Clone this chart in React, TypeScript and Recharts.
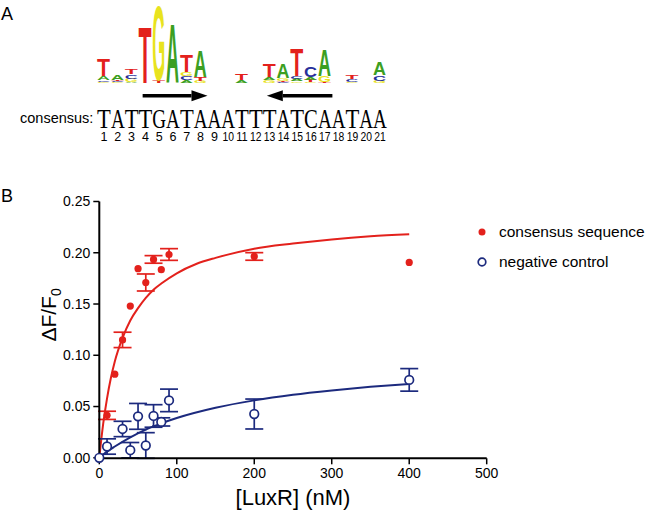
import React from "react";
import {
  BarChart,
  Bar,
  XAxis,
  YAxis,
  ReferenceLine,
  ComposedChart,
  Line,
  Scatter,
  ErrorBar,
  Legend,
} from "recharts";

// ---- panel A: sequence logo ----
const CONSENSUS = "TATTGATAAATTTATCAATAA".split("");
const POSITIONS = CONSENSUS.map((_, i) => i + 1);

// letters per position, stacked bottom -> top
const LOGO_LETTERS: string[][] = [
  ["G", "C", "A", "T"],
  ["G", "C", "T", "A"],
  ["A", "G", "C", "T"],
  ["T"],
  ["T", "G"],
  ["A"],
  ["A", "C", "G", "T"],
  ["G", "T", "A"],
  [],
  [],
  ["A", "T"],
  [],
  ["G", "A", "T"],
  ["C", "T", "G", "A"],
  ["G", "A", "C", "T"],
  ["G", "T", "A", "C"],
  ["T", "G", "A"],
  [],
  ["G", "C", "T"],
  [],
  ["G", "C", "A"],
];
// information content (bits), same order
const LOGO_BITS: number[][] = [
  [0.03, 0.04, 0.1, 0.44],
  [0.02, 0.03, 0.03, 0.14],
  [0.03, 0.08, 0.11, 0.12],
  [1.43],
  [0.07, 1.9],
  [1.5],
  [0.07, 0.1, 0.1, 0.42],
  [0.05, 0.1, 0.65],
  [],
  [],
  [0.07, 0.17],
  [],
  [0.07, 0.07, 0.33],
  [0.03, 0.03, 0.07, 0.37],
  [0.04, 0.07, 0.07, 0.7],
  [0.03, 0.05, 0.07, 0.25],
  [0.03, 0.15, 0.65],
  [],
  [0.03, 0.06, 0.1],
  [],
  [0.06, 0.13, 0.33],
];
const FWD_ARROW = [3.8, 8.5];
const REV_ARROW = [17.55, 12.8];

// ---- panel B: binding data ----
const RED_X = [0, 10, 20, 30, 40, 50, 60, 70, 80, 90, 200, 400];
const RED_Y = [0, 0.0414, 0.0816, 0.115, 0.148, 0.1845, 0.171, 0.1935, 0.1835, 0.1983, 0.1964, 0.1906];
const RED_ERR = [0, 0.004, 0, 0.0075, 0, 0, 0.0083, 0.0037, 0, 0.0057, 0.0037, 0];

const BLUE_X = [0, 10, 30, 40, 50, 60, 70, 80, 90, 200, 400];
const BLUE_Y = [0, 0.011, 0.0281, 0.0074, 0.0404, 0.012, 0.0408, 0.035, 0.056, 0.0427, 0.076];
const BLUE_ERR = [0, 0.0075, 0.0075, 0.0075, 0.0126, 0.0125, 0.011, 0.004, 0.011, 0.0146, 0.011];

const RED_FIT_X = [0, 5, 10, 15, 20, 30, 40, 50, 60, 70, 80, 100, 125, 150, 200, 250, 300, 350, 400];
const RED_FIT_Y = [0, 0.033, 0.058, 0.078, 0.094, 0.117, 0.134, 0.146, 0.156, 0.164, 0.17, 0.18, 0.189, 0.195, 0.204, 0.209, 0.213, 0.216, 0.218];
const BLUE_FIT_X = [0, 10, 20, 40, 60, 80, 100, 150, 200, 250, 300, 350, 400];
const BLUE_FIT_Y = [0, 0.006, 0.011, 0.02, 0.0275, 0.0336, 0.0388, 0.0488, 0.056, 0.0615, 0.0657, 0.0692, 0.072];

const X_TICKS = [0, 100, 200, 300, 400, 500];
const Y_TICKS = [0, 0.05, 0.1, 0.15, 0.2, 0.25];

const RED = "#e3211c";
const BLUE = "#1c2a7e";
const LETTER_COLORS: Record<string, string> = {
  A: "#3c9f22",
  C: "#27309b",
  G: "#e8e31e",
  T: "#e3211c",
};
const SANS = "'Liberation Sans', Arial, Helvetica, sans-serif";

const logoRows = POSITIONS.map((pos, i) => {
  const row: Record<string, any> = { pos };
  for (let k = 0; k < 4; k++) {
    row[`h${k}`] = LOGO_BITS[i][k] ?? 0;
    row[`l${k}`] = LOGO_LETTERS[i][k] ?? "";
  }
  return row;
});

const zip = (xs: number[], ys: number[], es?: number[]) =>
  xs.map((x, i) => ({ x, y: ys[i], err: es ? es[i] : 0 }));

const redPoints = zip(RED_X, RED_Y, RED_ERR);
const bluePoints = zip(BLUE_X, BLUE_Y, BLUE_ERR);
const redFit = zip(RED_FIT_X, RED_FIT_Y);
const blueFit = zip(BLUE_FIT_X, BLUE_FIT_Y);

function renderLetter(props: any, k: number) {
  const { x, y, width, height, payload } = props;
  const letter = payload?.[`l${k}`];
  if (!letter || !(height > 0.3)) return <g />;
  return (
    <text
      x={0}
      y={0}
      fontSize={100}
      fontWeight={700}
      fontFamily={SANS}
      fill={LETTER_COLORS[letter]}
      textLength={70}
      lengthAdjust="spacingAndGlyphs"
      transform={`translate(${x},${y + height}) scale(${width / 70},${height / 72})`}
    >
      {letter}
    </text>
  );
}

function Arrow(props: any) {
  const { x1, y1, x2, y2 } = props;
  const dir = x2 > x1 ? 1 : -1;
  const bx = x2 - dir * 16;
  return (
    <g>
      <line x1={x1} y1={y1} x2={bx} y2={y2} stroke="#000" strokeWidth={3.5} />
      <polygon points={`${x2},${y2} ${bx},${y2 - 5.5} ${bx},${y2 + 5.5}`} fill="#000" />
    </g>
  );
}

function ConsensusTick(props: any) {
  const { x, y, payload } = props;
  const idx = payload.value - 1;
  const num = String(payload.value);
  return (
    <g>
      <text
        x={x - 6.9}
        y={y + 44.5}
        fontFamily="'Liberation Serif', 'Times New Roman', serif"
        fontSize={27}
        fill="#000"
        textLength={13.8}
        lengthAdjust="spacingAndGlyphs"
      >
        {CONSENSUS[idx]}
      </text>
      <text
        x={x}
        y={y + 58}
        textAnchor="middle"
        fontFamily="'Liberation Sans Narrow', 'Arial Narrow', sans-serif"
        fontSize={12.5}
        fill="#000"
        textLength={num.length > 1 ? 11.5 : undefined}
        lengthAdjust="spacingAndGlyphs"
      >
        {num}
      </text>
    </g>
  );
}

function XTitle(props: any) {
  const { viewBox } = props;
  return (
    <text x={viewBox.x + viewBox.width / 2} y={viewBox.y + 46.7} textAnchor="middle" fontSize={22} fill="#000" fontFamily={SANS}>
      [LuxR] (nM)
    </text>
  );
}

function YTitle(props: any) {
  const { viewBox } = props;
  const x = viewBox.x + 17;
  const y = viewBox.y + viewBox.height / 2 - 15;
  return (
    <text x={x} y={y} transform={`rotate(-90 ${x} ${y})`} textAnchor="middle" fontSize={21} fill="#000" fontFamily={SANS}>
      ΔF/F
      <tspan fontSize={14} dy={5}>0</tspan>
    </text>
  );
}

function LegendBox() {
  const items = [
    { label: "consensus sequence", open: false },
    { label: "negative control", open: true },
  ];
  return (
    <div style={{ fontFamily: SANS, fontSize: 15.5, color: "#000" }}>
      {items.map((it) => (
        <div key={it.label} style={{ display: "flex", alignItems: "center", height: 30 }}>
          <svg width={16} height={12} style={{ marginRight: 8 }}>
            {it.open ? (
              <circle cx={7} cy={6} r={3.8} fill="#fff" stroke={BLUE} strokeWidth={1.7} />
            ) : (
              <circle cx={7} cy={6} r={3.5} fill={RED} />
            )}
          </svg>
          <span>{it.label}</span>
        </div>
      ))}
    </div>
  );
}

export default function App() {
  return (
    <div style={{ position: "absolute", left: 0, top: 0, width: 650, height: 515, background: "#fff", fontFamily: SANS }}>
      <div style={{ position: "absolute", left: 0, top: 0 }}>
        <BarChart
          width={650}
          height={160}
          data={logoRows}
          barSize={13}
          margin={{ top: 3, right: 263.1, bottom: 7, left: 97.1 }}
        >
          <XAxis
            type="number"
            dataKey="pos"
            domain={[0.5, 21.5]}
            ticks={POSITIONS}
            interval={0}
            axisLine={false}
            tickLine={false}
            tickSize={0}
            tickMargin={0}
            height={70}
            tick={<ConsensusTick />}
          />
          <YAxis hide domain={[0, 2]} />
          {[0, 1, 2, 3].map((k) => (
            <Bar
              key={k}
              dataKey={`h${k}`}
              stackId="logo"
              isAnimationActive={false}
              shape={(p: any) => renderLetter(p, k)}
            />
          ))}
          <ReferenceLine
            segment={[{ x: FWD_ARROW[0], y: -0.32 }, { x: FWD_ARROW[1], y: -0.32 }]}
            ifOverflow="visible"
            shape={Arrow}
          />
          <ReferenceLine
            segment={[{ x: REV_ARROW[0], y: -0.32 }, { x: REV_ARROW[1], y: -0.32 }]}
            ifOverflow="visible"
            shape={Arrow}
          />
        </BarChart>
      </div>

      <div style={{ position: "absolute", left: 0, top: 0 }}>
        <ComposedChart width={650} height={515} margin={{ top: 201.5, right: 163.3, bottom: 26.7, left: 39.3 }}>
          <XAxis
            type="number"
            dataKey="x"
            domain={[0, 500]}
            ticks={X_TICKS}
            height={30}
            axisLine={{ stroke: "#000", strokeWidth: 2 }}
            tickLine={{ stroke: "#000", strokeWidth: 1.5 }}
            tickSize={6}
            tickMargin={4}
            tick={{ fill: "#000", fontSize: 14 }}
            label={<XTitle />}
          />
          <YAxis
            type="number"
            domain={[0, 0.25]}
            ticks={Y_TICKS}
            width={60}
            tickFormatter={(v: number) => v.toFixed(2)}
            axisLine={{ stroke: "#000", strokeWidth: 2 }}
            tickLine={{ stroke: "#000", strokeWidth: 1.5 }}
            tickSize={6}
            tickMargin={3}
            tick={{ fill: "#000", fontSize: 14 }}
            label={<YTitle />}
          />
          <Line data={redFit} dataKey="y" type="monotone" stroke={RED} strokeWidth={2} dot={false} isAnimationActive={false} />
          <Line data={blueFit} dataKey="y" type="monotone" stroke={BLUE} strokeWidth={2} dot={false} isAnimationActive={false} />
          <Scatter
            data={redPoints}
            dataKey="y"
            isAnimationActive={false}
            shape={(p: any) => <circle cx={p.cx} cy={p.cy} r={3.6} fill={RED} />}
          >
            <ErrorBar dataKey="err" direction="y" width={9} stroke={RED} strokeWidth={1.7} />
          </Scatter>
          <Scatter
            data={bluePoints}
            dataKey="y"
            isAnimationActive={false}
            shape={(p: any) => <circle cx={p.cx} cy={p.cy} r={4.3} fill="#fff" stroke={BLUE} strokeWidth={1.7} />}
          >
            <ErrorBar dataKey="err" direction="y" width={9} stroke={BLUE} strokeWidth={1.7} />
          </Scatter>
          <Legend
            layout="vertical"
            align="center"
            verticalAlign="middle"
            content={<LegendBox />}
            wrapperStyle={{ position: "absolute", left: 475, top: 217, width: 175, height: 60 }}
          />
        </ComposedChart>
      </div>

      <svg width={650} height={515} style={{ position: "absolute", left: 0, top: 0, pointerEvents: "none" }}>
        <text x={1} y={20} fontSize={18} fontFamily={SANS} fill="#000">A</text>
        <text x={1} y={202} fontSize={18} fontFamily={SANS} fill="#000">B</text>
        <text x={20} y={123} fontSize={14.5} fontFamily={SANS} fill="#000">consensus:</text>
      </svg>
    </div>
  );
}
